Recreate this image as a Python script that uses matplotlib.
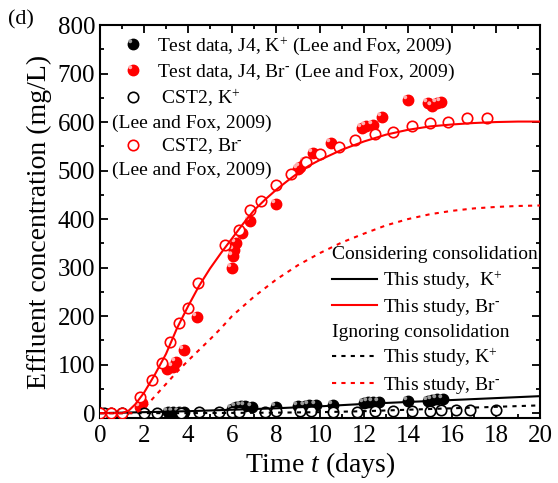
import matplotlib
matplotlib.use("Agg")
import numpy as np
import matplotlib.pyplot as plt
from matplotlib.lines import Line2D
from matplotlib.path import Path

plt.rcParams['font.family'] = ['Liberation Serif', 'DejaVu Serif']
plt.rcParams['mathtext.fontset'] = 'custom'
plt.rcParams['mathtext.rm'] = 'Liberation Serif'
plt.rcParams['mathtext.it'] = 'Liberation Serif:italic'

# ---------------- data ----------------
# Test data J4, K+ (filled black)
j4_k_t = [0.0, 0.5, 3.1, 3.3, 3.6, 3.8, 6.0, 6.2, 6.4, 6.6, 6.9, 8.0, 9.0, 9.3, 9.5, 9.8,
          10.6, 12.0, 12.2, 12.4, 12.7, 14.0, 14.9, 15.1, 15.3, 15.6]
j4_k_c = [0, 0, 2, 3, 3, 3, 8, 12, 14, 14, 13, 13, 15, 15, 16, 17,
          16, 20, 22, 23, 23, 26, 24, 27, 29, 29]
# Test data J4, Br- (filled red)
j4_br_t = [0.0, 0.5, 1.0, 1.8, 1.9, 3.05, 3.3, 3.45, 3.8, 4.4, 6.0, 6.05, 6.1, 6.2, 6.45, 6.8,
           8.0, 9.0, 9.1, 9.3, 9.7, 10.5, 11.9, 12.1, 12.4, 12.8, 14.0, 14.9, 15.1, 15.3, 15.5]
j4_br_c = [0, 0, 0, 12, 20, 91, 95, 105, 130, 198, 299, 323, 336, 350, 371, 396,
           431, 503, 508, 517, 536, 556, 588, 592, 594, 610, 645, 639, 633, 639, 641]
# CST2, K+ (open black)
cst_k_t = [0.0, 0.2, 1.0, 2.0, 2.6, 3.7, 4.5, 5.4, 6.0, 6.3, 7.5, 8.0, 9.1, 9.6, 10.6, 11.7,
           12.5, 13.3, 14.2, 15.0, 15.5, 16.2, 16.8, 18.0]
cst_k_c = [0, 0, 0, 1, 1, 1, 2, 2, 3, 3, 2, 4, 4, 4, 3, 3, 4, 5, 5, 5, 6, 6, 6, 6]
# CST2, Br- (open red)
cst_br_t = [0.0, 0.5, 1.0, 1.8, 2.35, 2.8, 3.2, 3.6, 4.0, 4.45, 5.7, 6.3, 6.8, 7.3, 8.0, 8.7,
            9.35, 10.0, 10.85, 11.6, 12.5, 13.3, 14.2, 15.0, 15.8, 16.7, 17.6]
cst_br_c = [0, 0, 0, 33, 68, 103, 146, 185, 217, 268, 346, 377, 419, 437, 470, 492,
            517, 534, 549, 563, 575, 580, 592, 598, 600, 608, 608]

# This study, considering consolidation
cons_br_t = [0, 0.5, 1.0, 1.3, 1.6, 2.0, 2.5, 3.0, 3.5, 4.0, 4.5, 5.0, 5.5, 6.0, 6.5, 7.0, 7.5,
             8.0, 8.5, 9.0, 9.5, 10, 11, 12, 13, 14, 15, 16, 17, 18, 19, 20]
cons_br_c = [0, 0, 0, 5, 18, 42, 80, 122, 175, 220, 262, 298, 330, 360, 390, 418, 440,
             460, 478, 495, 510, 522, 543, 560, 574, 584, 591, 595, 598, 600, 601, 601]
cons_k_t = [0, 2, 4, 6, 8, 10, 12, 14, 16, 18, 20]
cons_k_c = [0, 2, 4, 7, 10, 14, 19, 23, 27, 31, 35]
# This study, ignoring consolidation
ign_br_t = [0, 1.0, 1.6, 2.0, 2.5, 3.0, 3.5, 4.0, 4.5, 5.0, 5.5, 6.0, 7.0, 8.0, 9.0, 10.0,
            11.0, 12.0, 13.0, 14.0, 15.0, 16.0, 17.0, 18.0, 19.0, 20.0]
ign_br_c = [0, 0, 0, 10, 35, 60, 85, 108, 130, 152, 175, 200, 240, 275, 305, 330,
            352, 370, 387, 400, 410, 417, 422, 425, 427, 428]
ign_k_t = [0, 4, 8, 10, 12, 14, 16, 18, 20]
ign_k_c = [0, 0, 1, 2, 4, 7, 10, 13, 16]

x_ticks = list(range(0, 21, 2))
y_ticks = list(range(0, 801, 100))

BR = 'Br$^{\\text{-}}$'
KP = 'K$^{+}$'

# highlight marker (small spot, upper-left) to mimic shaded spheres
_ang = np.linspace(0, 2 * np.pi, 40)
_hv = np.column_stack([-0.28 + 0.17 * np.cos(_ang), 0.28 + 0.17 * np.sin(_ang)])
HL = Path(_hv, closed=True)

# ---------------- figure ----------------
fig = plt.figure(figsize=(5.58, 4.83), dpi=100)
ax = fig.add_axes([0.1792, 0.1346, 0.7885, 0.8136])

ms = 7.5
ax.plot(j4_k_t, j4_k_c, 'o', color='black', ms=ms, mec='black', zorder=3)
ax.plot(j4_k_t, j4_k_c, linestyle='none', marker=HL, color='#9a9a9a', mew=0, ms=ms, zorder=3.1)
ax.plot(j4_br_t, j4_br_c, 'o', color='red', ms=ms, mec='red', zorder=3)
ax.plot(j4_br_t, j4_br_c, linestyle='none', marker=HL, color='#ffb0b0', mew=0, ms=ms, zorder=3.1)
ax.plot(cst_k_t, cst_k_c, 'o', mfc='white', mec='black', ms=ms, mew=1.2, zorder=4)
ax.plot(cst_br_t, cst_br_c, 'o', mfc='white', mec='red', ms=ms, mew=1.2, zorder=4)

lw = 1.5
ax.plot(cons_k_t, cons_k_c, '-', color='black', lw=lw, zorder=5)
ax.plot(cons_br_t, cons_br_c, '-', color='red', lw=lw, zorder=5)
ax.plot(ign_k_t, ign_k_c, color='black', lw=lw, dashes=(2, 2.5), zorder=5)
ax.plot(ign_br_t, ign_br_c, color='red', lw=lw, dashes=(2, 2.5), zorder=5)

ax.set_xlim(0, 20)
ax.set_ylim(-10, 800)
ax.set_xticks(x_ticks)
ax.set_yticks(y_ticks)
ax.set_xticks([i for i in range(1, 20, 2)], minor=True)
ax.set_yticks([50 + 100 * i for i in range(8)], minor=True)
ax.tick_params(which='both', direction='in', top=True, right=True, labelsize=18, width=1.3)
ax.tick_params(which='major', length=6)
ax.tick_params(which='minor', length=3)
ax.tick_params(axis='x', pad=5)
for s in ax.spines.values():
    s.set_linewidth(1.5)

ax.set_xlabel('Time $t$ (days)', fontsize=20, labelpad=2)
ax.set_ylabel('Effluent concentration (mg/L)', fontsize=20, labelpad=4)

fig.text(0.014, 0.958, '(d)', fontsize=16, ha='left', va='center')

# legend 1
blank = Line2D([], [], linestyle='none')
hk = (Line2D([], [], linestyle='none', marker='o', color='black', ms=ms),
      Line2D([], [], linestyle='none', marker=HL, color='#9a9a9a', mew=0, ms=ms))
hb = (Line2D([], [], linestyle='none', marker='o', color='red', ms=ms),
      Line2D([], [], linestyle='none', marker=HL, color='#ffb0b0', mew=0, ms=ms))
h1 = [hk, hb,
      Line2D([], [], linestyle='none', marker='o', mfc='white', mec='black', ms=ms, mew=1.2),
      blank,
      Line2D([], [], linestyle='none', marker='o', mfc='white', mec='red', ms=ms, mew=1.2),
      blank]
l1 = ['Test data, J4, ' + KP + ' (Lee and Fox, 2009)',
      'Test data, J4, ' + BR + ' (Lee and Fox, 2009)',
      ' CST2, ' + KP, '(Lee and Fox, 2009)',
      ' CST2, ' + BR, '(Lee and Fox, 2009)']
leg1 = ax.legend(h1, l1, loc='upper left', bbox_to_anchor=(0.053, 0.975), frameon=False,
                 fontsize=14, handlelength=1.0, handletextpad=0.74, borderpad=0,
                 borderaxespad=0, labelspacing=0.25)
ax.add_artist(leg1)
for i in (3, 5):
    leg1.get_texts()[i].set_x(-45)

# legend 2
h2 = [blank,
      Line2D([], [], color='black', lw=lw),
      Line2D([], [], color='red', lw=lw),
      blank,
      Line2D([], [], color='black', lw=lw, dashes=(2, 2.5)),
      Line2D([], [], color='red', lw=lw, dashes=(2, 2.5))]
l2 = ['Considering consolidation', 'This study,  ' + KP, 'This study, ' + BR,
      'Ignoring consolidation', 'This study, ' + KP, 'This study, ' + BR]
leg2 = ax.legend(h2, l2, loc='upper left', bbox_to_anchor=(0.527, 0.438), frameon=False,
                 fontsize=14, handlelength=2.31, handletextpad=0.31, borderpad=0,
                 borderaxespad=0, labelspacing=0.28)
for i in (0, 3):
    leg2.get_texts()[i].set_x(-51)

fig.savefig('out.png', dpi=100)
